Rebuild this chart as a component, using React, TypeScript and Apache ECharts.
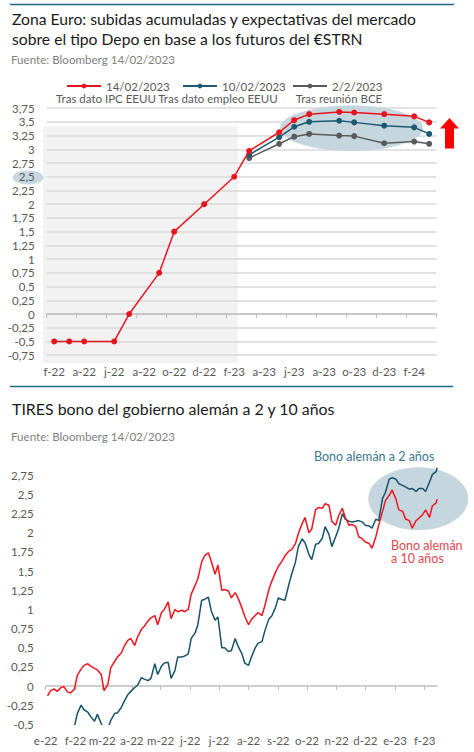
import React, { useEffect, useRef } from "react";
import * as echarts from "echarts";

// ---------- Top chart: Depo rate path (monthly categories) ----------
const rateMonths = [
  "2022-02", "2022-03", "2022-04", "2022-05", "2022-06", "2022-07", "2022-08",
  "2022-09", "2022-10", "2022-11", "2022-12", "2023-01", "2023-02", "2023-03",
  "2023-04", "2023-05", "2023-06", "2023-07", "2023-08", "2023-09", "2023-10",
  "2023-11", "2023-12", "2024-01", "2024-02", "2024-03",
];
const depo14Feb = [
  -0.5, -0.5, -0.5, null, -0.5, 0, null, 0.75, 1.5, null, 2, null, 2.5,
  2.97, null, 3.31, 3.53, 3.64, null, 3.68, 3.67, null, 3.64, null, 3.6, 3.49,
];
const depo10Feb = [
  null, null, null, null, null, null, null, null, null, null, null, null, null,
  2.9, null, 3.22, 3.41, 3.5, null, 3.52, 3.49, null, 3.43, null, 3.4, 3.28,
];
const depo2Feb = [
  null, null, null, null, null, null, null, null, null, null, null, null, null,
  2.84, null, 3.1, 3.23, 3.28, null, 3.25, 3.24, null, 3.11, null, 3.14, 3.1,
];
const rateTicks = { min: -0.75, max: 3.75, interval: 0.25 };

// ---------- Bottom chart: German 2y / 10y yields ----------
const bondAxisStart = "2022-01-01";
const bondAxisEnd = "2023-02-14";
const bondDates = [
  "2022-01-03", "2022-01-06", "2022-01-10", "2022-01-13", "2022-01-17", "2022-01-20", "2022-01-24", "2022-01-27", "2022-01-31",
  "2022-02-03", "2022-02-07", "2022-02-10", "2022-02-14", "2022-02-17", "2022-02-21", "2022-02-24", "2022-02-28",
  "2022-03-03", "2022-03-07", "2022-03-10", "2022-03-14", "2022-03-17", "2022-03-21", "2022-03-24", "2022-03-28", "2022-03-31",
  "2022-04-04", "2022-04-07", "2022-04-11", "2022-04-14", "2022-04-18", "2022-04-21", "2022-04-25", "2022-04-28",
  "2022-05-02", "2022-05-05", "2022-05-09", "2022-05-12", "2022-05-16", "2022-05-19", "2022-05-23", "2022-05-26", "2022-05-30",
  "2022-06-02", "2022-06-06", "2022-06-09", "2022-06-13", "2022-06-16", "2022-06-20", "2022-06-23", "2022-06-27", "2022-06-30",
  "2022-07-04", "2022-07-07", "2022-07-11", "2022-07-14", "2022-07-18", "2022-07-21", "2022-07-25", "2022-07-28",
  "2022-08-01", "2022-08-04", "2022-08-08", "2022-08-11", "2022-08-15", "2022-08-18", "2022-08-22", "2022-08-25", "2022-08-29",
  "2022-09-01", "2022-09-05", "2022-09-08", "2022-09-12", "2022-09-15", "2022-09-19", "2022-09-22", "2022-09-26", "2022-09-29",
  "2022-10-03", "2022-10-06", "2022-10-10", "2022-10-13", "2022-10-17", "2022-10-20", "2022-10-24", "2022-10-27", "2022-10-31",
  "2022-11-03", "2022-11-07", "2022-11-10", "2022-11-14", "2022-11-17", "2022-11-21", "2022-11-24", "2022-11-28",
  "2022-12-01", "2022-12-05", "2022-12-08", "2022-12-12", "2022-12-15", "2022-12-19", "2022-12-22", "2022-12-26", "2022-12-29",
  "2023-01-02", "2023-01-05", "2023-01-09", "2023-01-12", "2023-01-16", "2023-01-19", "2023-01-23", "2023-01-26", "2023-01-30",
  "2023-02-02", "2023-02-06", "2023-02-09", "2023-02-13", "2023-02-14",
];
const yield10y = [
  -0.13, -0.06, -0.04, -0.07, -0.02, -0.01, -0.08, -0.09, -0.04,
  0.14, 0.22, 0.27, 0.29, 0.26, 0.23, 0.21, 0.15,
  -0.06, 0.02, 0.24, 0.32, 0.38, 0.43, 0.52, 0.6, 0.62,
  0.53, 0.64, 0.74, 0.78, 0.85, 0.89, 0.92, 0.8,
  0.96, 1.0, 1.1, 0.88, 1.0, 0.97, 0.99, 0.97, 1.0,
  1.2, 1.31, 1.4, 1.62, 1.7, 1.74, 1.63, 1.46, 1.58,
  1.25, 1.26, 1.24, 1.15, 1.22, 1.15, 1.02, 0.91,
  0.8, 0.87, 0.92, 0.96, 0.92, 1.05, 1.25, 1.36, 1.48,
  1.56, 1.63, 1.7, 1.76, 1.78, 1.86, 1.99, 2.12, 2.2,
  2.0, 2.05, 2.3, 2.33, 2.32, 2.38, 2.36, 2.15, 2.1,
  2.22, 2.32, 2.2, 2.1, 2.11, 2.08, 1.95, 1.92,
  1.88, 1.86, 1.8, 1.95, 2.1, 2.28, 2.42, 2.49, 2.56,
  2.44, 2.3, 2.28, 2.18, 2.16, 2.06, 2.16, 2.19, 2.24,
  2.3, 2.2, 2.35, 2.39, 2.44,
];
const yield2y = [
  -0.62, -0.62, -0.6, -0.6, -0.59, -0.58, -0.58, -0.56, -0.53,
  -0.36, -0.25, -0.31, -0.34, -0.4, -0.46, -0.37, -0.49,
  -0.58, -0.55, -0.45, -0.36, -0.35, -0.28, -0.2, -0.11, -0.07,
  -0.02, 0.01, 0.11, 0.09, 0.07, 0.1, 0.29, 0.15,
  0.26, 0.3, 0.31, 0.1, 0.2, 0.38, 0.38, 0.39, 0.42,
  0.62, 0.69, 0.8, 1.12, 1.13, 1.16, 0.98, 0.86, 0.9,
  0.5, 0.5, 0.45, 0.46, 0.62, 0.52, 0.42, 0.3,
  0.27, 0.38, 0.5, 0.56, 0.58, 0.72, 0.87, 0.91, 1.02,
  1.15, 1.13, 1.12, 1.32, 1.46, 1.62, 1.82, 1.92, 1.87,
  1.72, 1.65, 1.85, 1.86, 1.93, 2.08, 1.98, 1.82, 1.95,
  2.05, 2.25, 2.18, 2.15, 2.14, 2.15, 2.16, 2.14,
  2.1, 2.09, 2.06, 2.18, 2.16, 2.45, 2.53, 2.7, 2.72,
  2.7, 2.64, 2.62, 2.6, 2.57, 2.58, 2.54, 2.58, 2.58,
  2.54, 2.66, 2.76, 2.8, 2.85,
];
const bondTicks = { min: -0.5, max: 2.9, interval: 0.25 };

const monthInitials = ["e", "f", "m", "a", "m", "j", "j", "a", "s", "o", "n", "d"];

const FONT = 'Lato, "Open Sans", "Noto Sans", sans-serif';
const RED = "#e8141c";
const BLUE = "#1b5a72";
const GREY = "#5a5a5a";
const AXIS_TXT = "#595959";

function dayRange(a: string, b: string): string[] {
  const out: string[] = [];
  let t = Date.parse(a + "T00:00:00Z");
  const end = Date.parse(b + "T00:00:00Z");
  while (t <= end) {
    out.push(new Date(t).toISOString().slice(0, 10));
    t += 86400000;
  }
  return out;
}
const fmtMonth = (s: string) =>
  monthInitials[parseInt(s.slice(5, 7), 10) - 1] + "-" + s.slice(2, 4);
const fmtNum = (v: number) => String(Math.round(v * 100) / 100).replace(".", ",");

export default function App() {
  const ref = useRef<HTMLDivElement>(null);

  useEffect(() => {
    if (!ref.current) return;
    const chart = echarts.init(ref.current, null, { renderer: "svg" });
    const bondDays = dayRange(bondAxisStart, bondAxisEnd);
    const isMonthStart = (_i: number, v: string) => v.slice(8) === "01";

    const txt = (text: string, x: number, y: number, size: number, fill: string, align = "left") => ({
      type: "text",
      x,
      y,
      z: 5,
      style: {
        text,
        font: `${size}px ${FONT}`,
        fill,
        align,
        textAlign: align,
        verticalAlign: "middle",
        textVerticalAlign: "middle",
      },
    });

    const legendBase = {
      top: 74.5, itemWidth: 34, itemHeight: 6, selectedMode: false,
      textStyle: { color: AXIS_TXT, fontSize: 11.5, fontFamily: FONT, lineHeight: 13 },
    };

    const option: any = {
      animation: false,
      backgroundColor: "#ffffff",
      textStyle: { fontFamily: FONT },
      grid: [
        { left: 46.7, width: 390, top: 108.1, height: 247.1 },
        { left: 45.7, width: 391.4, top: 463.9, height: 260.4 },
      ],
      legend: [
        { ...legendBase, data: ["14/02/2023"], left: 61 },
        { ...legendBase, data: ["10/02/2023"], left: 177 },
        { ...legendBase, data: ["2/2/2023"], left: 287 },
      ],
      xAxis: [
        {
          type: "category", gridIndex: 0, data: rateMonths, boundaryGap: true, position: "bottom",
          axisLine: { show: false, onZero: false }, axisTick: { show: false },
          axisLabel: { interval: 1, margin: 10, color: AXIS_TXT, fontSize: 11.5, formatter: fmtMonth },
          splitLine: { show: false },
        },
        {
          type: "category", gridIndex: 0, data: rateMonths, boundaryGap: true, position: "bottom", z: 1,
          axisLine: { show: true, onZero: true, lineStyle: { color: "#bfbfbf", width: 1.5 } },
          axisTick: { show: true, interval: 1, length: 4, lineStyle: { color: "#bfbfbf", width: 1 } },
          axisLabel: { show: false }, splitLine: { show: false },
        },
        {
          type: "category", gridIndex: 1, data: bondDays, boundaryGap: false, position: "bottom",
          axisLine: { show: false, onZero: false }, axisTick: { show: false },
          axisLabel: {
            interval: isMonthStart, margin: 10, color: AXIS_TXT, fontSize: 11.5,
            formatter: fmtMonth,
          },
          splitLine: { show: false },
        },
        {
          type: "category", gridIndex: 1, data: bondDays, boundaryGap: false, position: "bottom", z: 1,
          axisLine: { show: true, onZero: true, lineStyle: { color: "#bfbfbf", width: 1.5 } },
          axisTick: { show: true, interval: isMonthStart, length: 4, lineStyle: { color: "#bfbfbf", width: 1 } },
          axisLabel: { show: false }, splitLine: { show: false },
        },
      ],
      yAxis: [
        {
          type: "value", gridIndex: 0, min: rateTicks.min, max: rateTicks.max, interval: rateTicks.interval, z: 1,
          axisLine: { show: false }, axisTick: { show: false },
          axisLabel: { margin: 12, color: AXIS_TXT, fontSize: 11.5, formatter: fmtNum },
          splitLine: { show: true, lineStyle: { color: "#d9d9d9", width: 1.5 } },
        },
        {
          type: "value", gridIndex: 1, min: bondTicks.min, max: bondTicks.max, interval: bondTicks.interval, z: 1,
          axisLine: { show: false }, axisTick: { show: false },
          axisLabel: { margin: 12, color: AXIS_TXT, fontSize: 11.5, formatter: fmtNum, showMaxLabel: false },
          splitLine: { show: false },
        },
      ],
      series: [
        {
          name: "2/2/2023", type: "line", xAxisIndex: 0, yAxisIndex: 0, data: depo2Feb, connectNulls: true,
          z: 3, symbol: "circle", symbolSize: 6, color: GREY, lineStyle: { width: 1.5, color: GREY },
          itemStyle: { color: GREY },
        },
        {
          name: "10/02/2023", type: "line", xAxisIndex: 0, yAxisIndex: 0, data: depo10Feb, connectNulls: true,
          z: 3, symbol: "circle", symbolSize: 6, color: BLUE, lineStyle: { width: 1.5, color: BLUE },
          itemStyle: { color: BLUE },
        },
        {
          name: "14/02/2023", type: "line", xAxisIndex: 0, yAxisIndex: 0, data: depo14Feb, connectNulls: true,
          z: 4, symbol: "circle", symbolSize: 6, color: RED, lineStyle: { width: 1.5, color: RED },
          itemStyle: { color: RED },
        },
        {
          name: "Bono alemán a 2 años", type: "line", xAxisIndex: 2, yAxisIndex: 1, clip: true, z: 3,
          data: bondDates.map((d, i) => [d, yield2y[i]]), showSymbol: false, symbol: "none",
          lineStyle: { width: 1.5, color: "#17536b" }, color: "#17536b",
        },
        {
          name: "Bono alemán a 10 años", type: "line", xAxisIndex: 2, yAxisIndex: 1, clip: true, z: 3,
          data: bondDates.map((d, i) => [d, yield10y[i]]), showSymbol: false, symbol: "none",
          lineStyle: { width: 1.5, color: "#f0141e" }, color: "#f0141e",
        },
      ],
      graphic: [
        { type: "line", z: 5, shape: { x1: 10, y1: 4.5, x2: 454, y2: 4.5 }, style: { stroke: "#1e6a85", lineWidth: 1.5 } },
        txt("Zona Euro: subidas acumuladas y expectativas del mercado", 12, 18.5, 15.7, "#1a1a1a"),
        txt("sobre el tipo Depo en base a los futuros del €STRN", 12, 38.5, 15.7, "#1a1a1a"),
        txt("Fuente: Bloomberg 14/02/2023", 11, 59, 11.6, "#7f7f7f"),
        txt("Tras dato IPC EEUU", 106, 98.5, 11.5, AXIS_TXT, "center"),
        txt("Tras dato empleo EEUU", 218, 98.5, 11.5, AXIS_TXT, "center"),
        txt("Tras reunión BCE", 339, 98.5, 11.5, AXIS_TXT, "center"),
        { type: "rect", z: 0, shape: { x: 43, y: 126, width: 195, height: 237 }, style: { fill: "#f2f2f2" } },
        { type: "ellipse", z: 0, shape: { cx: 28, cy: 177.5, rx: 15.5, ry: 7 }, style: { fill: "#c8d8e1" } },
        { type: "ellipse", z: 2, shape: { cx: 351.5, cy: 128.3, rx: 71.5, ry: 22.7 }, style: { fill: "#c6d6df" } },
        {
          type: "polygon", z: 5,
          shape: { points: [[449.5, 118], [440, 128.5], [445, 128.5], [445, 148.5], [454, 148.5], [454, 128.5], [459, 128.5]] },
          style: { fill: "#ff0000" },
        },
        { type: "line", z: 5, shape: { x1: 10, y1: 386.5, x2: 453, y2: 386.5 }, style: { stroke: "#1e6a85", lineWidth: 1.5 } },
        txt("TIRES bono del gobierno alemán a 2 y 10 años", 12, 408, 15.9, "#1a1a1a"),
        txt("Fuente: Bloomberg 14/02/2023", 11, 436.5, 11.6, "#7f7f7f"),
        { type: "ellipse", z: 2, shape: { cx: 418.3, cy: 498.7, rx: 50, ry: 31.5 }, style: { fill: "#c6d6df" } },
        txt("Bono alemán a 2 años", 314, 456.5, 12.5, "#3a7891"),
        txt("Bono alemán", 391, 545, 12.5, "#e5484d"),
        txt("a 10 años", 391, 558.5, 12.5, "#e5484d"),
      ],
    };

    chart.setOption(option);
    return () => chart.dispose();
  }, []);

  return (
    <div
      ref={ref}
      style={{ position: "fixed", left: 0, top: 0, width: 474, height: 752, background: "#fff" }}
    />
  );
}
